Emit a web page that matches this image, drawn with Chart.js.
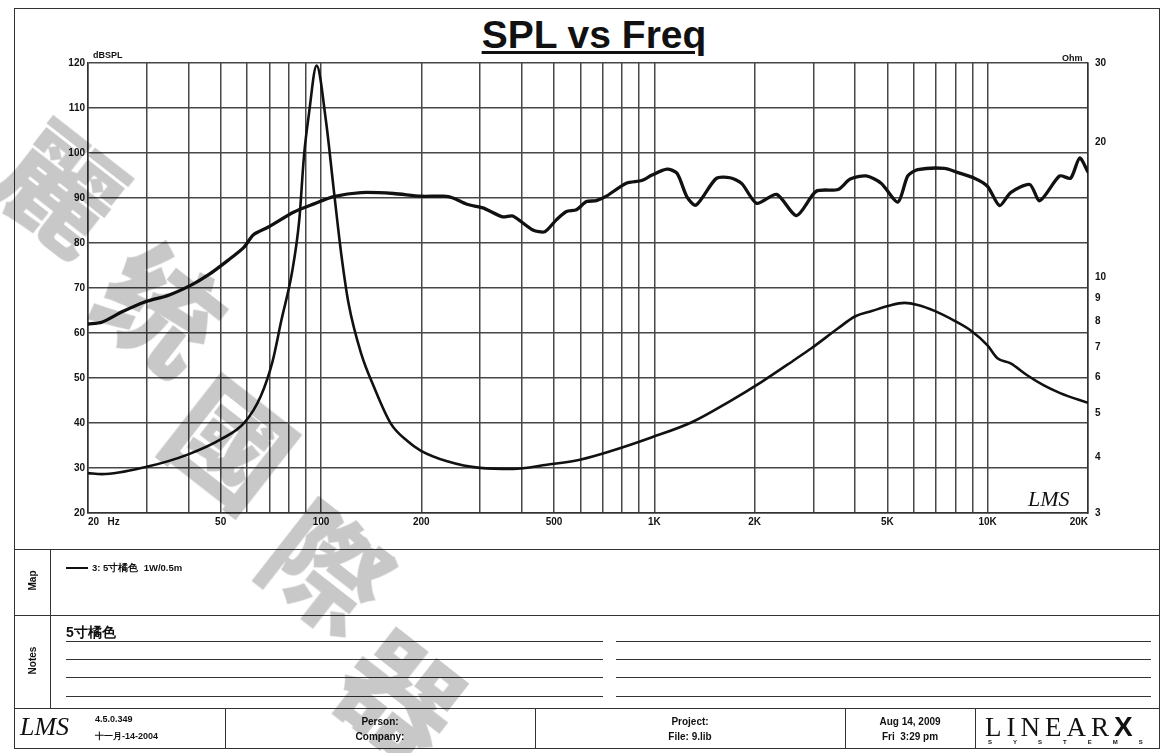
<!DOCTYPE html>
<html><head><meta charset="utf-8">
<script src="https://cdn.jsdelivr.net/npm/chart.js@4/dist/chart.umd.min.js"></script>
<style>
html,body{margin:0;padding:0;background:#fff;width:1168px;height:753px;overflow:hidden;font-family:"Liberation Sans",Arial,sans-serif;color:#111;}
.a{position:absolute;}
.hl{position:absolute;height:0;border-top:1.5px solid #333;}
.vl{position:absolute;width:0;border-left:1.5px solid #333;}
.t{position:absolute;font-weight:bold;font-size:10px;white-space:nowrap;}
.c{text-align:center;}
.wm{position:absolute;font-family:"Noto Sans CJK TC","Noto Sans CJK SC",sans-serif;font-weight:900;font-size:118px;color:#c8c8c8;mix-blend-mode:multiply;line-height:1;transform:rotate(38deg);}
</style></head>
<body>
<div class="a" style="left:14px;top:8px;width:1146px;height:741px;border:1.5px solid #333;box-sizing:border-box;"></div>
<div class="a" style="left:0;top:13px;width:1188px;text-align:center;font:bold 39px 'Liberation Sans',Arial,sans-serif;text-decoration:underline;text-decoration-thickness:3px;text-underline-offset:3px;">SPL vs Freq</div>
<div id="cw" class="a" style="left:0;top:0;width:1168px;height:553px;"><canvas id="c"></canvas></div>
<div class="t" style="left:93px;top:50px;font-size:9px;">dBSPL</div>
<div class="t" style="left:1062px;top:53px;font-size:9px;">Ohm</div>
<div class="a" style="left:1028px;top:486px;font:italic 22px 'Liberation Serif',serif;">LMS</div>

<div class="hl" style="left:14px;top:549px;width:1146px;"></div>
<div class="hl" style="left:14px;top:615px;width:1146px;"></div>
<div class="hl" style="left:14px;top:708px;width:1146px;"></div>
<div class="vl" style="left:50px;top:549px;height:159px;"></div>
<div class="vl" style="left:225px;top:708px;height:41px;"></div>
<div class="vl" style="left:535px;top:708px;height:41px;"></div>
<div class="vl" style="left:845px;top:708px;height:41px;"></div>
<div class="vl" style="left:975px;top:708px;height:41px;"></div>

<div class="t" style="left:18px;top:575px;width:28px;text-align:center;transform:rotate(-90deg);">Map</div>
<div class="t" style="left:12px;top:655px;width:40px;text-align:center;transform:rotate(-90deg);">Notes</div>
<div class="a" style="left:66px;top:567px;width:22px;height:0;border-top:2.5px solid #111;"></div>
<div class="t" style="left:92px;top:562px;font-size:9.5px;">3: 5寸橘色&nbsp; 1W/0.5m</div>
<div class="t" style="left:66px;top:624px;font-size:14px;">5寸橘色</div>
<div class="hl" style="left:66px;top:641px;width:537px;"></div>
<div class="hl" style="left:66px;top:659px;width:537px;"></div>
<div class="hl" style="left:66px;top:677px;width:537px;"></div>
<div class="hl" style="left:66px;top:696px;width:537px;"></div>
<div class="hl" style="left:616px;top:641px;width:535px;"></div>
<div class="hl" style="left:616px;top:659px;width:535px;"></div>
<div class="hl" style="left:616px;top:677px;width:535px;"></div>
<div class="hl" style="left:616px;top:696px;width:535px;"></div>

<div class="a" style="left:20px;top:712px;font:italic 26px 'Liberation Serif',serif;">LMS</div>
<div class="t" style="left:95px;top:714px;font-size:9px;">4.5.0.349</div>
<div class="t" style="left:95px;top:730px;font-size:9px;">十一月-14-2004</div>
<div class="t c" style="left:225px;width:310px;top:716px;">Person:</div>
<div class="t c" style="left:225px;width:310px;top:731px;">Company:</div>
<div class="t c" style="left:535px;width:310px;top:716px;">Project:</div>
<div class="t c" style="left:535px;width:310px;top:731px;">File: 9.lib</div>
<div class="t c" style="left:845px;width:130px;top:716px;">Aug 14, 2009</div>
<div class="t c" style="left:845px;width:130px;top:731px;">Fri&nbsp; 3:29 pm</div>
<div class="a" style="left:985px;top:711px;font:27px 'Liberation Serif',serif;letter-spacing:5px;">LINEAR<b style="font-family:'Liberation Sans';font-size:28px;">X</b></div>
<div class="a" style="left:988px;top:739px;font:bold 6px 'Liberation Sans';letter-spacing:21px;">SYSTEMS</div>

<div class="wm" style="left:5px;top:125px;">麗</div>
<div class="wm" style="left:105px;top:245px;">统</div>
<div class="wm" style="left:175px;top:380px;">國</div>
<div class="wm" style="left:272px;top:505px;">際</div>
<div class="wm" style="left:345px;top:632px;">器</div>

<script>
const freqSPL=[20,22,25.3,29.6,34.9,40.9,45.9,52.7,58.8,62.6,69.3,83,95.3,109,132,165,199,233,249,274,306,351,376,432,469,509,545,584,626,670,718,824,918,984,1092,1170,1254,1334,1532,1686,1830,2028,2328,2670,3060,3560,3870,4320,4790,5380,5760,6170,7420,8110,9130,9990,10860,11720,13370,14330,16440,17740,18880,20000];
const spl=[62.0,62.4,64.7,66.9,68.4,70.7,72.9,76.2,79.1,81.8,83.5,86.9,88.7,90.3,91.2,91.0,90.4,90.4,90.0,88.6,87.8,85.8,86.0,82.9,82.5,85.2,87.0,87.4,89.2,89.4,90.4,93.3,93.9,95.1,96.4,95.5,90.2,88.4,94.3,94.5,93.2,88.8,90.8,86.1,91.5,91.9,94.2,94.9,93.3,89.1,94.9,96.3,96.6,95.7,94.4,92.6,88.3,91.2,93.0,89.4,94.9,94.4,98.9,95.8];
const freqZ=[20,22,30,40,50,59,66,71.5,76,82,86,89,92,97,103.5,109,115,121,132,144,162,182,199,239,300,376,476,598,750,984,1300,1674,2100,2650,2960,3560,4010,4490,5020,5630,6170,6930,7960,8880,9990,10700,11720,13140,14700,16500,20000];
const imp=[3.68,3.66,3.80,4.05,4.37,4.77,5.46,6.50,8.02,10.35,13.35,18.8,23.1,29.6,22.3,15.9,11.3,8.76,6.78,5.73,4.74,4.33,4.13,3.91,3.78,3.76,3.84,3.94,4.13,4.42,4.78,5.30,5.87,6.59,6.97,7.72,8.21,8.43,8.65,8.79,8.70,8.44,8.02,7.64,7.07,6.62,6.45,6.07,5.77,5.54,5.27];
const xGridVals=[20,30,40,50,60,70,80,90,100,200,300,400,500,600,700,800,900,1000,2000,3000,4000,5000,6000,7000,8000,9000,10000,20000];
const xTickLabels={20:'20   Hz',50:'50',100:'100',200:'200',500:'500',1000:'1K',2000:'2K',5000:'5K',10000:'10K',20000:'20K'};
const ohmTicks=[3,4,5,6,7,8,9,10,20,30];

const tickFont={family:"'Liberation Sans',Arial,sans-serif",size:10,weight:'bold'};
const gridCol='#474747';
new Chart(document.getElementById('c'),{
  type:'line',
  data:{datasets:[
    {label:'SPL',data:freqSPL.map((f,i)=>({x:f,y:spl[i]})),yAxisID:'y',borderColor:'#111',borderWidth:3.3,pointRadius:0,tension:0.25,borderJoinStyle:'round',borderCapStyle:'round'},
    {label:'Impedance',data:freqZ.map((f,i)=>({x:f,y:imp[i]})),yAxisID:'y2',borderColor:'#111',borderWidth:2.6,pointRadius:0,cubicInterpolationMode:'monotone',borderJoinStyle:'round'}
  ]},
  options:{
    responsive:true,maintainAspectRatio:false,animation:false,
    layout:{padding:{left:30,right:30,top:63,bottom:15}},
    plugins:{legend:{display:false},tooltip:{enabled:false}},
    scales:{
      x:{type:'logarithmic',min:20,max:20000,
        afterBuildTicks:s=>{s.ticks=xGridVals.map(v=>({value:v}));},
        afterFit:s=>{s.height=25;},
        ticks:{autoSkip:false,maxRotation:0,minRotation:0,align:'inner',padding:3,color:'#111',font:tickFont,
          callback:(v)=>xTickLabels[v]!==undefined?xTickLabels[v]:''},
        grid:{color:gridCol,lineWidth:1.5,drawTicks:false},
        border:{color:'#333',width:1.5}},
      y:{type:'linear',position:'left',min:20,max:120,
        afterFit:s=>{s.width=58;},
        ticks:{stepSize:10,padding:3,color:'#111',font:tickFont},
        grid:{color:gridCol,lineWidth:1.5,drawTicks:false},
        border:{color:'#333',width:1.5}},
      y2:{type:'logarithmic',position:'right',min:3,max:30,
        afterFit:s=>{s.width=50;},
        afterBuildTicks:s=>{s.ticks=ohmTicks.map(v=>({value:v}));},
        ticks:{padding:7,color:'#111',font:tickFont,callback:v=>String(v)},
        grid:{drawOnChartArea:false,drawTicks:false},
        border:{color:'#333',width:1.5}}
    }
  }
});
</script>
</body></html>
